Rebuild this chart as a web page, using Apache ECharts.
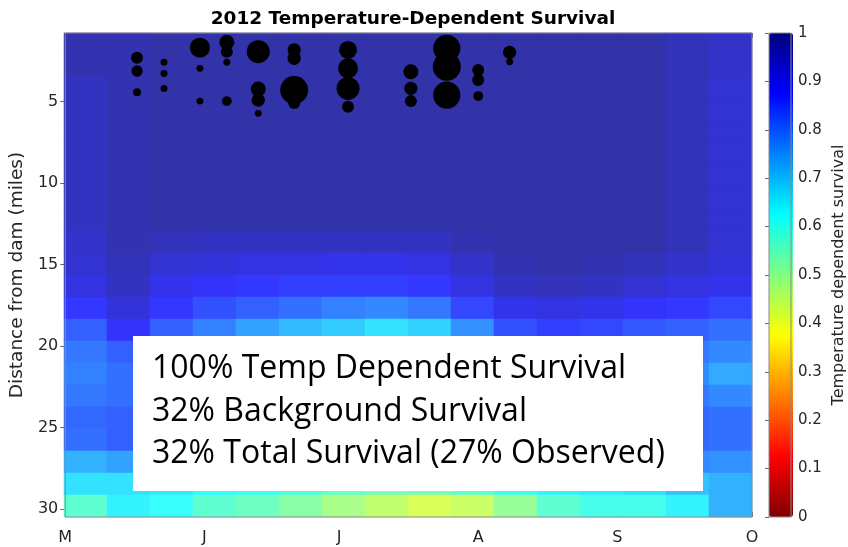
<!DOCTYPE html>
<html>
<head>
<meta charset="utf-8">
<script src="https://cdn.jsdelivr.net/npm/echarts@6/dist/echarts.min.js"></script>
<style>html,body{margin:0;padding:0;background:#fff}#c{width:848px;height:547px}</style>
</head>
<body>
<div id="c"></div>
<script>
// ---- data ----
const monthLabels = ['M', 'J', 'J', 'A', 'S', 'O'];
const monthStartDays = [0, 31, 61, 92, 123, 153]; // days since May 1
const distanceTicks = [5, 10, 15, 20, 25, 30];

// heatmap cell centres (days since May 1, miles below dam)
const gridDays = [4.78, 14.34, 23.91, 33.47, 43.03, 52.59, 62.16, 71.72, 81.28, 90.84, 100.41, 109.97, 119.53, 129.09, 138.66, 148.22];
const gridMiles = [1.48, 2.83, 4.18, 5.53, 6.88, 8.23, 9.58, 10.93, 12.28, 13.63, 14.98, 16.33, 17.68, 19.03, 20.38, 21.73, 23.08, 24.43, 25.78, 27.13, 28.48, 29.83];

// temperature dependent survival, one row per distance
const survivalGrid = [
  [0.97,0.97,0.98,0.98,0.98,0.98,0.98,0.98,0.98,0.98,0.98,0.98,0.98,0.98,0.96,0.94],
  [0.97,0.97,0.98,0.98,0.98,0.98,0.98,0.98,0.98,0.98,0.98,0.98,0.98,0.98,0.96,0.94],
  [0.95,0.97,0.98,0.98,0.98,0.98,0.98,0.98,0.98,0.98,0.98,0.98,0.98,0.98,0.96,0.93],
  [0.95,0.97,0.98,0.98,0.98,0.98,0.98,0.98,0.98,0.98,0.98,0.98,0.98,0.98,0.96,0.93],
  [0.95,0.97,0.98,0.98,0.98,0.98,0.98,0.98,0.98,0.98,0.98,0.98,0.98,0.98,0.96,0.93],
  [0.95,0.97,0.98,0.98,0.98,0.98,0.98,0.98,0.98,0.98,0.98,0.98,0.98,0.98,0.96,0.93],
  [0.95,0.97,0.98,0.98,0.98,0.98,0.98,0.98,0.98,0.98,0.98,0.98,0.98,0.98,0.96,0.93],
  [0.95,0.97,0.98,0.98,0.98,0.98,0.98,0.98,0.98,0.98,0.98,0.98,0.98,0.98,0.96,0.93],
  [0.95,0.97,0.98,0.98,0.98,0.98,0.98,0.98,0.98,0.98,0.98,0.98,0.98,0.98,0.96,0.93],
  [0.94,0.97,0.96,0.95,0.95,0.95,0.95,0.95,0.95,0.97,0.98,0.98,0.98,0.98,0.96,0.93],
  [0.93,0.96,0.93,0.92,0.91,0.91,0.90,0.90,0.91,0.94,0.97,0.98,0.97,0.96,0.94,0.92],
  [0.91,0.95,0.90,0.88,0.87,0.86,0.86,0.86,0.87,0.91,0.95,0.96,0.95,0.93,0.91,0.90],
  [0.87,0.92,0.87,0.84,0.82,0.80,0.78,0.77,0.79,0.85,0.90,0.91,0.90,0.88,0.87,0.85],
  [0.82,0.88,0.82,0.78,0.74,0.71,0.69,0.66,0.68,0.76,0.84,0.86,0.85,0.83,0.82,0.80],
  [0.79,0.82,0.78,0.75,0.72,0.69,0.67,0.65,0.67,0.72,0.78,0.81,0.81,0.80,0.79,0.77],
  [0.78,0.80,0.77,0.74,0.71,0.68,0.66,0.64,0.66,0.71,0.77,0.80,0.80,0.79,0.77,0.73],
  [0.79,0.80,0.78,0.75,0.72,0.70,0.68,0.66,0.68,0.72,0.77,0.80,0.81,0.80,0.79,0.77],
  [0.81,0.82,0.79,0.76,0.73,0.71,0.69,0.67,0.69,0.73,0.78,0.81,0.82,0.82,0.81,0.80],
  [0.80,0.82,0.78,0.75,0.72,0.70,0.68,0.66,0.68,0.72,0.77,0.80,0.82,0.82,0.81,0.80],
  [0.72,0.74,0.72,0.70,0.67,0.65,0.63,0.61,0.62,0.66,0.70,0.73,0.75,0.76,0.77,0.76],
  [0.66,0.66,0.65,0.63,0.61,0.59,0.56,0.54,0.54,0.57,0.61,0.64,0.65,0.66,0.70,0.72],
  [0.57,0.64,0.62,0.57,0.55,0.52,0.48,0.45,0.42,0.44,0.50,0.57,0.60,0.60,0.64,0.72]
];

// detections (black circles): day since May 1, distance (miles), count
const fishDay   = [16,16,16, 22,22,22, 30,30,30, 36,36,36,36, 43,43,43,43, 51,51,51,51, 63,63,63,63, 77,77,77, 85,85,85, 92,92,92, 99,99];
const fishMiles = [2.32,3.13,4.44, 2.6,3.28,4.2, 1.7,2.97,4.98, 1.37,1.95,2.6,4.98, 1.95,4.24,4.92,5.73, 1.84,2.35,4.3,5.1, 1.84,2.97,4.2,5.33, 3.18,4.2,4.98, 1.74,2.87,4.61, 3.07,3.69,4.67, 1.99,2.56];
const fishCount = [9,8,4, 3,3,3, 25,3,3, 14,9,3,6, 33,14,11,3, 11,11,49,9, 20,25,33,9, 14,11,9, 46,49,46, 9,9,6, 11,3];

const boxLines = ['100% Temp Dependent Survival', '32% Background Survival', '32% Total Survival (27% Observed)'];

// ---- build ----
const heatData = [];
survivalGrid.forEach((row, r) => row.forEach((v, c) => heatData.push([c, r, v])));
const fishData = fishDay.map((d, i) => [d, fishMiles[i], fishCount[i]]);

// reversed jet (value 0 -> dark red, 1 -> navy)
const jet = ['#800000','#ff0000','#ff8000','#ffff00','#80ff80','#00ffff','#0080ff','#0000ff','#000080'];
// same map as it appears on the semi-transparent surface
const jetFaded = ['#993333','#ff3333','#ff9933','#ffff33','#99ff99','#33ffff','#3399ff','#3333ff','#333399'];
const txt = {fontFamily: 'DejaVu Sans', color: '#262626'};
const tickStyle = {color: '#666'};

const chart = echarts.init(document.getElementById('c'), null, {renderer: 'canvas'});
chart.setOption({
  animation: false,
  backgroundColor: '#fff',
  title: {
    text: '2012 Temperature-Dependent Survival', left: 408, top: 5, textAlign: 'center',
    textStyle: {fontFamily: 'DejaVu Sans', fontWeight: 'bold', fontSize: 18.5, color: '#000'}
  },
  grid: [
    {left: 64, top: 33, width: 688, height: 484},
    {left: 64, top: 33, width: 688, height: 484, show: true, borderColor: '#8a8a8a', borderWidth: 1, backgroundColor: 'transparent', z: 10},
    {left: 769, top: 33, width: 24, height: 484, show: true, borderColor: '#8a8a8a', borderWidth: 1, backgroundColor: 'transparent', z: 10}
  ],
  xAxis: [
    {gridIndex: 0, type: 'category', data: gridDays, show: false},
    {gridIndex: 1, type: 'value', min: 0, max: 153, position: 'bottom',
      axisLine: {show: false}, splitLine: {show: false},
      axisTick: {inside: true, length: 5, customValues: monthStartDays, lineStyle: tickStyle},
      axisLabel: {customValues: monthStartDays, formatter: v => monthLabels[monthStartDays.indexOf(v)], fontSize: 16, margin: 13, ...txt}},
    {gridIndex: 2, type: 'value', show: false},
    {gridIndex: 1, type: 'value', min: 0, max: 153, position: 'top',
      axisLine: {show: false}, splitLine: {show: false}, axisLabel: {show: false},
      axisTick: {inside: true, length: 5, customValues: monthStartDays, lineStyle: tickStyle}}
  ],
  yAxis: [
    {gridIndex: 0, type: 'category', data: gridMiles, inverse: true, show: false},
    {gridIndex: 1, type: 'value', min: 0.8, max: 30.5, inverse: true,
      name: 'Distance from dam (miles)', nameLocation: 'middle', nameRotate: 90, nameGap: 38,
      nameTextStyle: {fontSize: 18.5, ...txt},
      axisLine: {show: false}, splitLine: {show: false},
      axisTick: {inside: true, length: 5, customValues: distanceTicks, lineStyle: tickStyle},
      axisLabel: {customValues: distanceTicks, fontSize: 16, margin: 7, ...txt}},
    {gridIndex: 2, type: 'value', min: 0, max: 1, interval: 0.1, position: 'right',
      name: 'Temperature dependent survival', nameLocation: 'middle', nameRotate: 90, nameGap: 40,
      nameTextStyle: {fontSize: 16, ...txt},
      axisLine: {show: false}, splitLine: {show: false},
      axisTick: {inside: true, length: 4, lineStyle: tickStyle},
      axisLabel: {fontSize: 15, margin: 7, ...txt}},
    {gridIndex: 1, type: 'value', min: 0.8, max: 30.5, inverse: true, position: 'right',
      axisLine: {show: false}, splitLine: {show: false}, axisLabel: {show: false},
      axisTick: {inside: true, length: 5, customValues: distanceTicks, lineStyle: tickStyle}}
  ],
  visualMap: [
    {type: 'continuous', min: 0, max: 1, seriesIndex: 0, show: false, inRange: {color: jetFaded}},
    {type: 'continuous', min: 0, max: 1, seriesIndex: 2, calculable: false, hoverLink: false,
      left: 769, top: 33, itemWidth: 24, itemHeight: 484, padding: 0, text: null, showLabel: false,
      inRange: {color: jet}}
  ],
  series: [
    {type: 'heatmap', xAxisIndex: 0, yAxisIndex: 0, data: heatData, emphasis: {disabled: true}, z: 1},
    {type: 'scatter', xAxisIndex: 1, yAxisIndex: 1, data: fishData, symbolSize: v => 4 * Math.sqrt(v[2]),
      itemStyle: {color: '#000', opacity: 1}, emphasis: {disabled: true}, z: 3},
    {type: 'scatter', xAxisIndex: 2, yAxisIndex: 2, data: []}
  ],
  graphic: [
    {type: 'rect', shape: {x: 133, y: 336, width: 570, height: 155}, style: {fill: '#fff'}, z: 100},
    {type: 'text', x: 152, y: 369, style: {text: boxLines[0], font: '32px "Open Sans"', fill: '#000', align: 'left', verticalAlign: 'middle'}, z: 101},
    {type: 'text', x: 152, y: 412, style: {text: boxLines[1], font: '32px "Open Sans"', fill: '#000', align: 'left', verticalAlign: 'middle'}, z: 101},
    {type: 'text', x: 152, y: 454, style: {text: boxLines[2], font: '32px "Open Sans"', fill: '#000', align: 'left', verticalAlign: 'middle'}, z: 101}
  ]
});
</script>
</body>
</html>
